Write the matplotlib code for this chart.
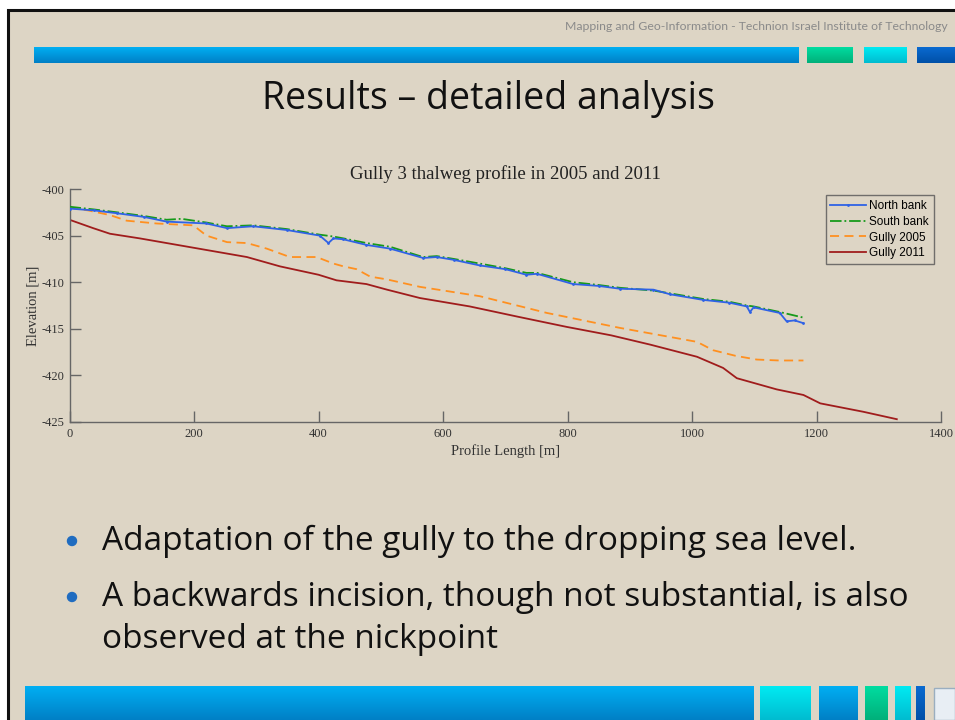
import numpy as np
import matplotlib.pyplot as plt
from matplotlib.patches import Rectangle, Circle

plt.rcParams['axes.unicode_minus'] = False

# profile data (distance in m, elevation in m)
north_x = [0, 40, 76, 120, 156, 220, 253, 295, 349, 402, 416, 424, 440, 477, 515,
           568, 590, 617, 659, 700, 734, 751, 809, 850, 884, 938, 965, 1018, 1060,
           1088, 1093, 1099, 1141, 1152, 1165, 1179]
north_y = [-402.1, -402.3, -402.6, -403.0, -403.5, -403.7, -404.2, -404.0, -404.4,
           -405.0, -405.8, -405.3, -405.4, -406.0, -406.4, -407.4, -407.3, -407.6,
           -408.2, -408.6, -409.2, -409.1, -410.2, -410.4, -410.7, -410.8, -411.3,
           -411.9, -412.2, -412.6, -413.2, -412.7, -413.3, -414.2, -414.1, -414.4]

south_x = [0, 40, 76, 120, 156, 180, 220, 253, 295, 349, 402, 424, 440, 477, 515,
           568, 590, 617, 659, 700, 734, 751, 809, 850, 884, 938, 965, 1018, 1060,
           1088, 1099, 1141, 1160, 1179]
south_y = [-401.9, -402.2, -402.5, -402.9, -403.3, -403.2, -403.6, -404.0, -403.9,
           -404.3, -404.9, -405.1, -405.3, -405.8, -406.2, -407.3, -407.2, -407.5,
           -408.0, -408.5, -409.0, -409.0, -410.0, -410.3, -410.6, -410.9, -411.2,
           -411.8, -412.1, -412.5, -412.6, -413.2, -413.5, -413.8]

g2005_x = [0, 30, 65, 92, 140, 199, 220, 253, 285, 317, 354, 397, 424, 440, 461, 483,
           510, 563, 659, 767, 884, 1008, 1034, 1070, 1104, 1140, 1179]
g2005_y = [-402.0, -402.3, -402.8, -403.4, -403.7, -403.9, -405.0, -405.7, -405.8,
           -406.4, -407.3, -407.3, -408.0, -408.3, -408.6, -409.4, -409.7, -410.5,
           -411.5, -413.3, -414.9, -416.4, -417.3, -417.9, -418.3, -418.4, -418.4]

g2011_x = [0, 38, 65, 113, 199, 285, 338, 400, 429, 477, 510, 563, 643, 720, 799,
           870, 933, 1008, 1050, 1072, 1136, 1179, 1206, 1275, 1329]
g2011_y = [-403.3, -404.2, -404.8, -405.3, -406.3, -407.3, -408.3, -409.2, -409.8,
           -410.2, -410.8, -411.7, -412.6, -413.7, -414.8, -415.7, -416.7, -418.0,
           -419.2, -420.3, -421.5, -422.1, -423.0, -423.9, -424.7]

x_ticks = [0, 200, 400, 600, 800, 1000, 1200, 1400]
y_ticks = [-425, -420, -415, -410, -405, -400]

W, H = 955, 720
fig = plt.figure(figsize=(W / 100, H / 100), dpi=100, facecolor='white')

# slide layer in pixel coordinates
bg = fig.add_axes([0, 0, 1, 1])
bg.set_xlim(0, W)
bg.set_ylim(H, 0)
bg.axis('off')

beige = '#ddd5c5'
bg.add_patch(Rectangle((8, 10), W, H, facecolor=beige, edgecolor='#111111', linewidth=2.2))


def bar(x0, x1, y0, y1, top, bottom):
    grad = np.linspace(0, 1, 32).reshape(-1, 1)
    c0 = np.array(plt.matplotlib.colors.to_rgb(top))
    c1 = np.array(plt.matplotlib.colors.to_rgb(bottom))
    img = c0 * (1 - grad[..., None]) + c1 * grad[..., None]
    img = np.repeat(img, 2, axis=1)
    bg.imshow(img, extent=(x0, x1, y1, y0), aspect='auto', interpolation='bilinear', zorder=2)


blue = ('#00aef2', '#0080c6')
green = ('#00dca0', '#00b07a')
teal = ('#00eaf2', '#00bcd0')
dblue = ('#0a6ad0', '#0050a8')

# top bars
bar(34, 798, 47, 63, *blue)
bar(807, 853, 47, 63, *green)
bar(864, 907, 47, 63, *teal)
bar(917, 955, 47, 63, *dblue)

# bottom bars
bar(25, 753, 686, 720, *blue)
bar(760, 810, 686, 720, *teal)
bar(819, 858, 686, 720, *blue)
bar(865, 888, 686, 720, *green)
bar(895, 911, 686, 720, *teal)
bar(916, 925, 686, 720, *dblue)
bg.add_patch(Rectangle((934, 688), 21, 32, facecolor='#e8eef4', edgecolor='#9aaec0', linewidth=1, zorder=2))

bg.text(948, 26, 'Mapping and Geo-Information - Technion Israel Institute of Technology',
        family='Lato', fontsize=8.8, color='#8a8a8a', ha='right', va='center')
bg.text(488, 99, 'Results \u2013 detailed analysis', family='Open Sans', fontsize=27,
        color='#111111', ha='center', va='center')

bullets = [(541, 'Adaptation of the gully to the dropping sea level.'),
           (597, 'A backwards incision, though not substantial, is also')]
for y, s in bullets:
    bg.add_patch(Circle((72, y), 4.5, color='#1f6cc0', zorder=3))
    bg.text(102, y, s, family='Open Sans', fontsize=24, color='#111111', va='center')
bg.text(102, 640, 'observed at the nickpoint', family='Open Sans', fontsize=24,
        color='#111111', va='center')

# the chart itself
ax = fig.add_axes([69.5 / W, 1 - 422 / H, (941 - 69.5) / W, (422 - 189) / H])
ax.patch.set_alpha(0)

ax.plot(north_x, north_y, color='#2f62e6', linewidth=1.3, marker='.', markersize=2,
        label='North bank', zorder=4)
ax.plot(south_x, south_y, color='#169a1a', linewidth=1.3, linestyle='-.',
        label='South bank', zorder=3)
ax.plot(g2005_x, g2005_y, color='#ff9020', linewidth=1.3, linestyle=(0, (5, 3)),
        label='Gully 2005')
ax.plot(g2011_x, g2011_y, color='#a01c1c', linewidth=1.3, label='Gully 2011')

ax.set_xlim(0, 1400)
ax.set_ylim(-425, -400)
ax.set_xticks(x_ticks)
ax.set_yticks(y_ticks)
for s in ['top', 'right']:
    ax.spines[s].set_visible(False)
for s in ['left', 'bottom']:
    ax.spines[s].set_color('#666666')
    ax.spines[s].set_linewidth(1)
ax.tick_params(direction='in', length=8, width=1, color='#666666', labelcolor='#333333',
               labelsize=9, pad=4)
for lab in ax.get_xticklabels() + ax.get_yticklabels():
    lab.set_family('Liberation Serif')

ax.set_title('Gully 3 thalweg profile in 2005 and 2011', family='Liberation Serif',
             fontsize=13.5, color='#222222', pad=7)
ax.set_xlabel('Profile Length [m]', family='Liberation Serif', fontsize=10.5, color='#333333',
              labelpad=3)
ax.set_ylabel('Elevation [m]', family='Liberation Serif', fontsize=10.5, color='#333333',
              labelpad=1)

leg = ax.legend(loc='upper right', bbox_to_anchor=(0.992, 0.974), borderaxespad=0,
                prop={'family': 'Liberation Sans', 'size': 8.5}, fancybox=False,
                handlelength=3.0, handletextpad=0.3, labelspacing=0.32, borderpad=0.42)
leg.get_frame().set_edgecolor('#555555')
leg.get_frame().set_facecolor('none')
leg.get_frame().set_linewidth(1)

fig.savefig('out.png', dpi=100, facecolor=fig.get_facecolor())
